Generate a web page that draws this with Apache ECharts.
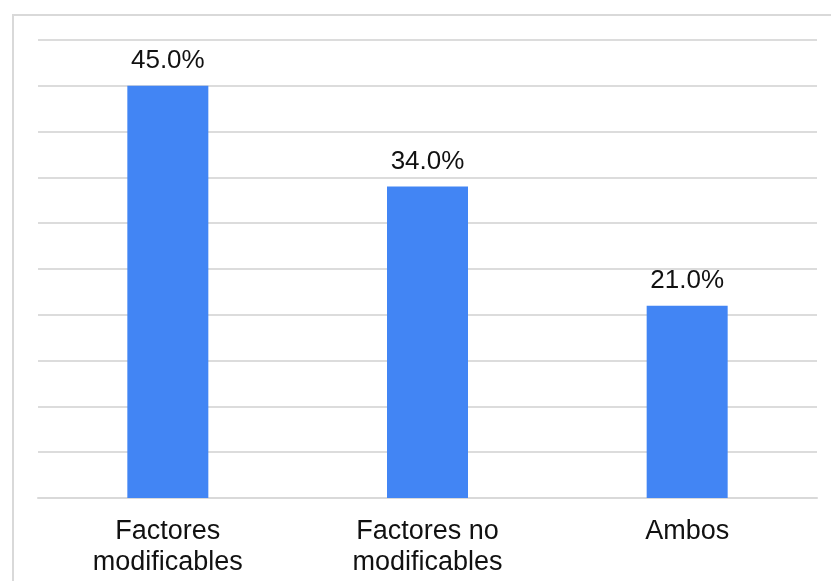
<!DOCTYPE html>
<html>
<head>
<meta charset="utf-8">
<script src="https://cdn.jsdelivr.net/npm/echarts@6/dist/echarts.min.js"></script>
<style>
  html, body { margin: 0; padding: 0; background: #fff; }
  #chart { width: 831px; height: 581px; }
</style>
</head>
<body>
<div id="chart"></div>
<script>
// datos del gráfico
var categorias = ['Factores\nmodificables', 'Factores no\nmodificables', 'Ambos'];
var porcentajes = [45.0, 34.0, 21.0];

var myChart = echarts.init(document.getElementById('chart'));

var option = {
    backgroundColor: '#ffffff',
    animation: false,
    graphic: [{
        type: 'rect',
        shape: { x: 13, y: 15, width: 840, height: 600 },
        style: { fill: 'none', stroke: '#d9d9d9', lineWidth: 2 },
        silent: true
    }],
    grid: { left: 38, right: 14, top: 40, bottom: 83, containLabel: false },
    xAxis: {
        type: 'category',
        data: categorias,
        axisLine: { show: true, lineStyle: { color: '#d9d9d9', width: 2 } },
        axisTick: { show: false },
        axisLabel: {
            color: '#111111',
            fontFamily: 'Liberation Sans, Arial, sans-serif',
            fontSize: 27,
            lineHeight: 31,
            margin: 18
        }
    },
    yAxis: {
        type: 'value',
        min: 0,
        max: 50,
        interval: 5,
        axisLine: { show: false },
        axisTick: { show: false },
        axisLabel: { show: false },
        splitLine: { lineStyle: { color: '#dcdcdc', width: 2 } }
    },
    series: [{
        type: 'bar',
        data: porcentajes,
        barWidth: 81,
        itemStyle: { color: '#4285f4' },
        label: {
            show: true,
            position: 'top',
            distance: 12,
            color: '#111111',
            fontFamily: 'Liberation Sans, Arial, sans-serif',
            fontSize: 26,
            formatter: function (p) { return p.value.toFixed(1) + '%'; }
        }
    }]
};

myChart.setOption(option);
</script>
</body>
</html>
